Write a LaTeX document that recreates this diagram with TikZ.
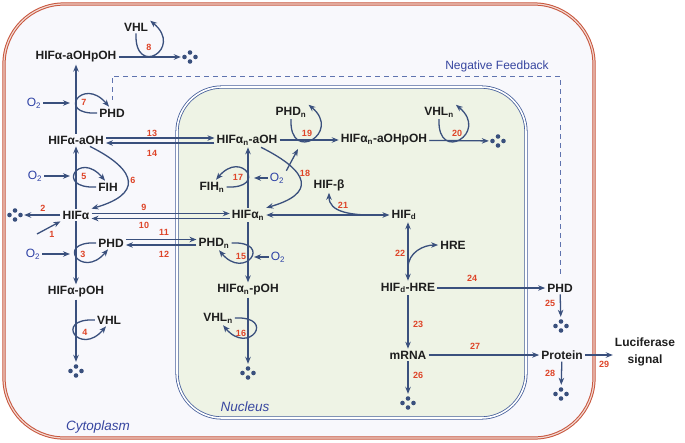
\documentclass[tikz,border=0pt]{standalone}
\usepackage{fontspec}
\setmainfont{Liberation Sans}
\usepackage{tikz}
\usetikzlibrary{arrows.meta,positioning,calc}

\definecolor{txtdark}{RGB}{30,30,30}
\definecolor{arrblue}{RGB}{58,80,125}
\definecolor{numred}{RGB}{222,68,40}
\definecolor{oxblue}{RGB}{45,65,165}
\definecolor{regblue}{RGB}{55,70,160}
\definecolor{fbblue}{RGB}{95,115,175}
\definecolor{cytfill}{RGB}{248,248,252}
\definecolor{cytred}{RGB}{200,85,60}
\definecolor{cytpale}{RGB}{240,215,208}
\definecolor{nucfill}{RGB}{238,243,229}
\definecolor{nucblue}{RGB}{70,95,155}

\begin{document}
\begin{tikzpicture}[x=1pt, y=-1pt,
    lbl/.style={font=\fontsize{12}{14}\selectfont\bfseries, text=txtdark, inner sep=2pt},
    num/.style={font=\fontsize{9}{10}\selectfont\bfseries, text=numred, inner sep=1pt},
    oxy/.style={font=\fontsize{12}{14}\selectfont, text=oxblue, inner sep=2pt},
    region/.style={font=\fontsize{13.5}{15}\selectfont\itshape, text=regblue},
    arr/.style={draw=arrblue, line width=1.3pt, >={Stealth[length=7pt,width=5.5pt]}, ->},
    darr/.style={arr, <->},
    fb/.style={draw=fbblue, line width=0.9pt, dash pattern=on 5pt off 4pt},
    sink/.style={circle, minimum size=18pt, inner sep=0pt, path picture={
        \foreach \dx/\dy in {-5.5/0, 5.5/0, 0/4.5, 0/-4.5}
            \fill[arrblue] ([xshift=\dx pt, yshift=\dy pt]path picture bounding box.center) circle (2.3pt);
    }}]
    \useasboundingbox (0,0) rectangle (685,442);

    % Compartments
    \draw[cytred, line width=1pt, double=cytpale, double distance=1.2pt, fill=cytfill,
        rounded corners=60pt] (4,4) rectangle (594,438);
    \draw[nucblue, line width=0.8pt, double=white, double distance=1.6pt, fill=nucfill,
        rounded corners=45pt] (177,87) rectangle (526,418);
    \node[region] (cyto) at (98,427) {Cytoplasm};
    \node[region] (nucl) at (245,407) {Nucleus};

    % Cytoplasm, left column
    \node[lbl] (hfaaoh2) at (76,57) {HIFα-aOHpOH};
    \node[lbl] (vhl8) at (136,27) {VHL};
    \node[sink] (sink8) at (190,57) {};
    \node[oxy] (o2s7) at (34,103) {O\textsubscript{2}};
    \node[lbl] (phd7) at (112,113) {PHD};
    \node[lbl] (hfaoh) at (76,140) {HIFα-aOH};
    \node[oxy] (o2s5) at (35,176) {O\textsubscript{2}};
    \node[lbl] (fih5) at (108,187) {FIH};
    \node[lbl] (hfa) at (76,215) {HIFα};
    \node[sink] (sink2) at (15,215) {};
    \node[lbl] (phd3) at (111,243) {PHD};
    \node[oxy] (o2s3) at (33,254) {O\textsubscript{2}};
    \node[lbl] (hfap) at (76,292) {HIFα-pOH};
    \node[lbl] (vhl4) at (109,320) {VHL};
    \node[sink] (sink4) at (76,371) {};
    \coordinate (vl) at (70,0);
    \coordinate (src1) at (37,234);

    % Nucleus
    \node[lbl] (hfnaoh) at (247,140) {HIFα\textsubscript{n}-aOH};
    \node[lbl] (phdn19) at (291,112) {PHD\textsubscript{n}};
    \node[lbl] (hfnaoh2) at (384,140) {HIFα\textsubscript{n}-aOHpOH};
    \node[lbl] (vhln20) at (439,112) {VHL\textsubscript{n}};
    \node[sink] (sink20) at (498,141) {};
    \node[lbl] (fihn17) at (212,187) {FIH\textsubscript{n}};
    \node[oxy] (o2n17) at (277,178) {O\textsubscript{2}};
    \node[lbl] (hfbeta) at (329,185) {HIF-β};
    \node[lbl] (hfn) at (248,215) {HIFα\textsubscript{n}};
    \node[lbl] (hfd) at (404,215) {HIF\textsubscript{d}};
    \node[lbl] (phdn15) at (214,243) {PHD\textsubscript{n}};
    \node[oxy] (o2n15) at (278,257) {O\textsubscript{2}};
    \node[lbl] (hfnp) at (248,290) {HIFα\textsubscript{n}-pOH};
    \node[lbl] (vhln16) at (218,318) {VHL\textsubscript{n}};
    \node[sink] (sink16) at (248,373) {};
    \node[lbl] (hre) at (453,245) {HRE};
    \node[lbl] (hfdhre) at (408,288) {HIF\textsubscript{d}-HRE};
    \node[lbl] (mrna) at (408,355) {mRNA};
    \node[sink] (sink26) at (408,403) {};
    \coordinate (vn) at (254,0);
    \coordinate (c19) at (298,149);
    \coordinate (c21) at (384,215);
    \coordinate (c22) at (408,268);

    % Cytoplasm, right side
    \node[lbl] (phd24) at (560,288) {PHD};
    \node[sink] (sink25) at (561,326) {};
    \node[lbl] (protein) at (562,355) {Protein};
    \node[sink] (sink28) at (561,394) {};
    \node[lbl, align=center, font=\fontsize{12}{17}\selectfont\bfseries] (luc) at (645,352) {Luciferase\\signal};

    % Negative feedback
    \node[font=\fontsize{12}{14}\selectfont, text=regblue] (fblabel) at (497,66) {Negative Feedback};
    \coordinate (fbtop) at (0,76);
    \draw[fb, shorten <=8pt, shorten >=7pt] (phd24.north) -- (phd24.north |- fbtop)
        -- (phd7.north |- fbtop) -- (phd7.north);

    % Reactions in the cytoplasm
    \draw[arr] (hfaaoh2) -- (sink8);
    \draw[arr] (vhl8.south) .. controls +(-2,45) and +(34,28) .. (vhl8.north east);
    \draw[arr] (hfaoh) -- (hfaaoh2);
    \draw[arr] (o2s7.east) -- (o2s7.east -| vl);
    \draw[arr] (phd7.west) .. controls +(-42,2) and +(-26,-31) .. ([xshift=-3pt]phd7.north);
    \draw[arr] (hfa) -- (hfaoh);
    \draw[arr] (o2s5.east) -- (o2s5.east -| vl);
    \draw[arr] (fih5.west) .. controls +(-42,2) and +(-26,-31) .. ([xshift=-3pt]fih5.north);
    \draw[arr] ([xshift=14pt]hfaoh.south) .. controls +(50,25) and +(49,-14) .. (hfa.north east);
    \draw[arr] (src1) -- (hfa.south west);
    \draw[arr] (hfa) -- (sink2);
    \draw[arr] (hfa) -- (hfap);
    \draw[arr] (o2s3.east) -- (o2s3.east -| vl);
    \draw[arr] (phd3.west) .. controls +(-42,-2) and +(-26,31) .. ([xshift=-3pt]phd3.south);
    \draw[arr] (hfap) -- (sink4);
    \draw[arr] (vhl4.west) .. controls +(-42,-2) and +(-26,31) .. ([xshift=-3pt]vhl4.south);

    % Transport between compartments
    \draw[arr] ([yshift=2pt]hfaoh.east) -- ([yshift=2pt]hfnaoh.west);
    \draw[arr] ([yshift=-3pt]hfnaoh.west) -- ([yshift=-3pt]hfaoh.east);
    \draw[arr] ([yshift=1.5pt]hfa.east) -- ([yshift=1.5pt]hfn.west);
    \draw[arr] ([yshift=-3.5pt]hfn.west) -- ([yshift=-3.5pt]hfa.east);
    \draw[arr] ([yshift=3.5pt]phd3.east) -- ([yshift=3.5pt]phdn15.west);
    \draw[arr] ([yshift=-2pt]phdn15.west) -- ([yshift=-2pt]phd3.east);

    % Reactions in the nucleus
    \draw[arr] (hfn.north) -- (hfn.north |- hfnaoh.south);
    \draw[arr] (o2n17.west) -- (o2n17.west -| vn);
    \draw[arr] (fihn17.east) .. controls +(42,2) and +(26,-31) .. ([xshift=4pt]fihn17.north);
    \draw[arr] (hfnaoh) -- (hfnaoh2);
    \draw[arr] (phdn19.south) .. controls +(-2,45) and +(34,28) .. (phdn19.north east);
    \draw[arr] (o2n17.north east) -- (c19);
    \draw[arr] ([xshift=14pt]hfnaoh.south) .. controls +(50,25) and +(49,-14) .. (hfn.north east);
    \draw[arr] (hfnaoh2) -- (sink20);
    \draw[arr] (vhln20.south) .. controls +(-2,45) and +(34,28) .. (vhln20.north east);
    \draw[darr] (hfn) -- (hfd);
    \draw[arr] (c21) .. controls (350,216) and (329,212) .. (hfbeta.south);
    \draw[arr] (hfn.south) -- (hfn.south |- hfnp.north);
    \draw[arr] (o2n15.west) -- (o2n15.west -| vn);
    \draw[arr] (phdn15.east) .. controls +(42,-2) and +(26,31) .. ([xshift=5pt]phdn15.south);
    \draw[arr] (hfnp.south) -- (hfnp.south |- sink16.north);
    \draw[arr] (vhln16.east) .. controls +(42,-2) and +(26,31) .. ([xshift=5pt]vhln16.south);
    \draw[darr] (hfdhre.north |- hfd.south) -- (hfdhre.north);
    \draw[arr] (c22) .. controls +(0,-16) and +(-14,0) .. (hre.west);
    \draw[arr] (hfdhre) -- (mrna);
    \draw[arr] (mrna) -- (sink26);

    % Expression of the reporter
    \draw[arr] (hfdhre) -- (phd24);
    \draw[arr] (phd24) -- (sink25);
    \draw[arr] (mrna) -- (protein);
    \draw[arr] (protein) -- (sink28);
    \draw[arr] (protein.east) -- (protein.east -| luc.west);

    % Reaction numbers
    \foreach \k/\px/\py in {1/52/234, 2/43/208, 3/83/254, 4/85/332, 5/84/176, 6/133/180,
        7/84/102, 8/149/47, 9/144/207, 10/144/225, 11/164/232, 12/164/254, 13/152/133,
        14/152/153, 15/241/256, 16/241/333, 17/238/177, 18/305/173, 19/307/133, 20/457/133,
        21/343/205, 22/400/253, 23/418/324, 24/472/278, 25/550/303, 26/418/375, 27/475/346,
        28/550/373, 29/604/364}
        \node[num] (n\k) at (\px,\py) {\k};
\end{tikzpicture}
\end{document}
